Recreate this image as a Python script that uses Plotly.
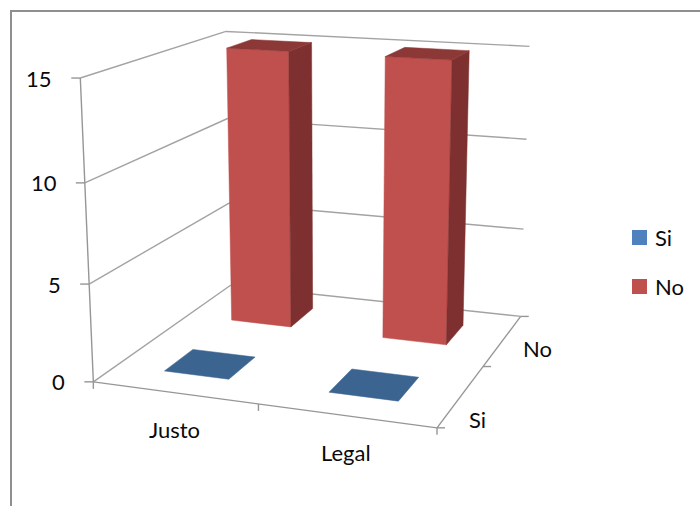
import numpy as np
import plotly.graph_objects as go

CATEGORIES = ["Justo", "Legal"]
SERIES = ["Si", "No"]
SI_VALUES = [0, 0]
NO_VALUES = [15, 15]
VALUE_TICKS = [0, 5, 10, 15]

# Homogeneous camera that takes (category, series, value) to screen pixels.
CAMERA = np.array([
    [155.38786, 92.412399, -1.1424547, 93.341558],
    [6.8902994, -18.872193, -20.519631, 381.84156],
    [-0.037628234, 0.10314493, -0.0034083503, 1.0],
])

BAR_MARGIN = 0.3  # gap either side of a bar inside its category / series slot
GRID = "#a3a3a3"
AXIS = "#969696"
FRAME = "#8f8f8f"
TEXT = "#0a0a0a"
FONT = "Lato"
SIZE = 22
RED_FACES = ("#C0504D", "#7D302F", "#8C3836")
BLUE_FACES = ("#3C6491", "#3C6491", "#3C6491")
LEGEND_COLORS = ["#4F81BD", "#C0504D"]


def project(x, y, z):
    h = CAMERA @ np.array([x, y, z, 1.0])
    return h[0] / h[2], h[1] / h[2]


fig = go.Figure()


def polygon(corners, color):
    pts = [project(*c) for c in corners]
    pts.append(pts[0])
    fig.add_trace(go.Scatter(
        x=[p[0] for p in pts], y=[p[1] for p in pts], mode="lines", fill="toself",
        fillcolor=color, line=dict(color=color, width=0.5),
        hoverinfo="skip", showlegend=False))


def segment(a, b, color=GRID, width=1.4, offset=(0, 0)):
    pa, pb = project(*a), project(*b)
    fig.add_trace(go.Scatter(
        x=[pa[0], pb[0] + offset[0]], y=[pa[1], pb[1] + offset[1]], mode="lines",
        line=dict(color=color, width=width), hoverinfo="skip", showlegend=False))


def tick(p, offset):
    segment(p, p, color=AXIS, width=1.4, offset=offset)


def bar(cat, ser, value, faces):
    front, side, top = faces
    x0, x1 = cat + BAR_MARGIN, cat + 1 - BAR_MARGIN
    y0, y1 = ser + BAR_MARGIN, ser + 1 - BAR_MARGIN
    if value > 0:
        polygon([(x0, y0, 0), (x1, y0, 0), (x1, y0, value), (x0, y0, value)], front)
        polygon([(x1, y0, 0), (x1, y1, 0), (x1, y1, value), (x1, y0, value)], side)
    polygon([(x0, y0, value), (x1, y0, value), (x1, y1, value), (x0, y1, value)], top)


ncat, nser, zmax = len(CATEGORIES), len(SERIES), VALUE_TICKS[-1]

# Walls and floor
for z in VALUE_TICKS:
    segment((0, 0, z), (0, nser, z))
    segment((0, nser, z), (ncat, nser, z))
segment((0, 0, 0), (0, 0, zmax), color=AXIS)
segment((0, 0, 0), (ncat, 0, 0), color=AXIS)
segment((ncat, 0, 0), (ncat, nser, 0), color=AXIS)

# Tick marks
for z in VALUE_TICKS:
    tick((0, 0, z), (-9, 0))
for i in range(ncat + 1):
    tick((i, 0, 0), (0, 7))
for j in range(nser + 1):
    tick((ncat, j, 0), (8, 0))

# Bars, back row first
for i in reversed(range(ncat)):
    bar(i, 1, NO_VALUES[i], RED_FACES)
for i in reversed(range(ncat)):
    bar(i, 0, SI_VALUES[i], BLUE_FACES)

annotations = []


def label(text, pos, anchor="center", dx=0, dy=0):
    annotations.append(dict(
        x=pos[0] + dx, y=pos[1] + dy, xref="x", yref="y", text=text, showarrow=False,
        xanchor=anchor, yanchor="middle", font=dict(family=FONT, size=SIZE, color=TEXT)))


for z in VALUE_TICKS:
    label(str(z), project(0, 0, z), anchor="right", dx=-26)
for i, name in enumerate(CATEGORIES):
    label(name, project(i + 0.5, 0, 0), dy=37)
for j, name in enumerate(SERIES):
    label(name, project(ncat, j + 0.5, 0), anchor="left", dx=[6, 18][j], dy=[24, 8][j])

# Legend
for name, color, ypix in zip(SERIES, LEGEND_COLORS, [237.5, 286.5]):
    fig.add_trace(go.Scatter(
        x=[639.5], y=[ypix], mode="markers", name=name,
        marker=dict(symbol="square", size=15, color=color),
        hoverinfo="name", showlegend=False))
    label(name, (653, ypix), anchor="left")

frame = dict(type="path", path="M 11 506 L 11 11 L 700 11", xref="x", yref="y",
             line=dict(color=FRAME, width=2))

fig.update_layout(
    width=700, height=506, margin=dict(l=0, r=0, t=0, b=0),
    paper_bgcolor="white", plot_bgcolor="white",
    xaxis=dict(range=[0, 700], visible=False, fixedrange=True),
    yaxis=dict(range=[506, 0], visible=False, fixedrange=True),
    shapes=[frame], annotations=annotations, showlegend=False)
fig.write_html("out.html")
